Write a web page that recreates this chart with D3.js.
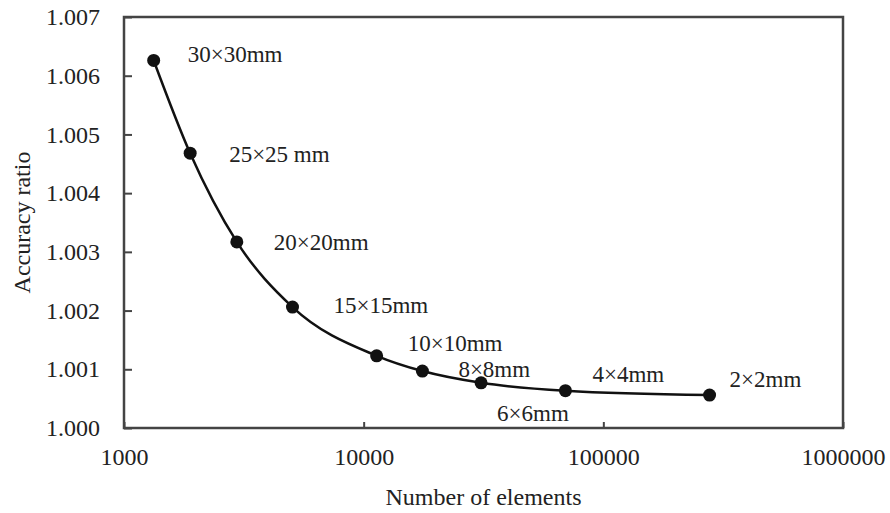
<!DOCTYPE html>
<html>
<head>
<meta charset="utf-8">
<script src="https://cdn.jsdelivr.net/npm/d3@7"></script>
<style>
  body { margin: 0; background: #fff; }
  svg text { font-family: "Liberation Serif", "Times New Roman", serif; fill: #222; }
</style>
</head>
<body>
<svg id="chart"></svg>
<script>
// Data
var elements = [1330, 1888, 2956, 5047, 11330, 17580, 30900, 69480, 277500];
var accuracy = [1.00626, 1.00468, 1.00317, 1.00206, 1.00123, 1.00097, 1.00077, 1.000635, 1.00056];
var meshLabels = ["30×30mm", "25×25 mm", "20×20mm", "15×15mm", "10×10mm", "8×8mm", "6×6mm", "4×4mm", "2×2mm"];
var xTicks = [1000, 10000, 100000, 1000000];
var yTicks = [1.000, 1.001, 1.002, 1.003, 1.004, 1.005, 1.006, 1.007];

// label offsets from each point (pixels)
var labelOffsets = [[34, -6], [39, 1], [37, 0], [41, -2], [31, -13], [36, -2], [16, 30], [27, -17], [20, -16]];

var svgWidth = 890;
var svgHeight = 513;
var margin = { top: 17, right: 47, bottom: 85, left: 124 };
var chartWidth = svgWidth - margin.left - margin.right;
var chartHeight = svgHeight - margin.top - margin.bottom;

var svg = d3.select("#chart")
  .attr("width", svgWidth)
  .attr("height", svgHeight);

var chart = svg.append("g")
  .attr("transform", "translate(" + margin.left + "," + margin.top + ")");

var xScale = d3.scaleLog()
  .domain([1000, 1000000])
  .range([0, chartWidth]);

var yScale = d3.scaleLinear()
  .domain([1.000, 1.007])
  .range([chartHeight, 0]);

var data = elements.map(function (e, i) {
  return { x: e, y: accuracy[i], label: meshLabels[i], off: labelOffsets[i] };
});

// y axis, ticks pointing inward
var yAxis = chart.append("g")
  .attr("class", "axis")
  .call(d3.axisLeft(yScale).tickValues(yTicks).tickFormat(d3.format(".3f"))
    .tickSizeInner(-8).tickSizeOuter(0).tickPadding(24));
yAxis.select(".domain").remove();
yAxis.selectAll("line").attr("stroke", "#444").attr("stroke-width", 2);
yAxis.selectAll("text").style("font-size", "24px").attr("fill", "#222");

// x axis, ticks pointing inward
var xAxis = chart.append("g")
  .attr("class", "axis")
  .attr("transform", "translate(0," + chartHeight + ")")
  .call(d3.axisBottom(xScale).tickValues(xTicks).tickFormat(d3.format("d"))
    .tickSizeInner(-6).tickSizeOuter(0).tickPadding(20));
xAxis.select(".domain").remove();
xAxis.selectAll("line").attr("stroke", "#444").attr("stroke-width", 2);
xAxis.selectAll("text").style("font-size", "24px").attr("fill", "#222");

// frame
chart.append("rect")
  .attr("x", 0)
  .attr("y", 0)
  .attr("width", chartWidth)
  .attr("height", chartHeight)
  .attr("fill", "none")
  .attr("stroke", "#444")
  .attr("stroke-width", 2.5);

// curve
var line = d3.line()
  .x(function (d) { return xScale(d.x); })
  .y(function (d) { return yScale(d.y); })
  .curve(d3.curveMonotoneX);

chart.append("path")
  .datum(data)
  .attr("d", line)
  .attr("fill", "none")
  .attr("stroke", "#111")
  .attr("stroke-width", 2.5);

chart.selectAll(".dot")
  .data(data)
  .enter()
  .append("circle")
  .attr("class", "dot")
  .attr("cx", function (d) { return xScale(d.x); })
  .attr("cy", function (d) { return yScale(d.y); })
  .attr("r", 6.5)
  .attr("fill", "#111");

chart.selectAll(".mesh-label")
  .data(data)
  .enter()
  .append("text")
  .attr("class", "mesh-label")
  .attr("x", function (d) { return xScale(d.x) + d.off[0]; })
  .attr("y", function (d) { return yScale(d.y) + d.off[1]; })
  .attr("dy", "0.35em")
  .style("font-size", "23px")
  .text(function (d) { return d.label; });

// axis titles
svg.append("text")
  .attr("x", margin.left + chartWidth / 2)
  .attr("y", 497)
  .attr("dy", "0.35em")
  .attr("text-anchor", "middle")
  .style("font-size", "24px")
  .text("Number of elements");

svg.append("text")
  .attr("transform", "translate(22," + (margin.top + chartHeight / 2) + ") rotate(-90)")
  .attr("dy", "0.35em")
  .attr("text-anchor", "middle")
  .style("font-size", "24px")
  .text("Accuracy ratio");
</script>
</body>
</html>
